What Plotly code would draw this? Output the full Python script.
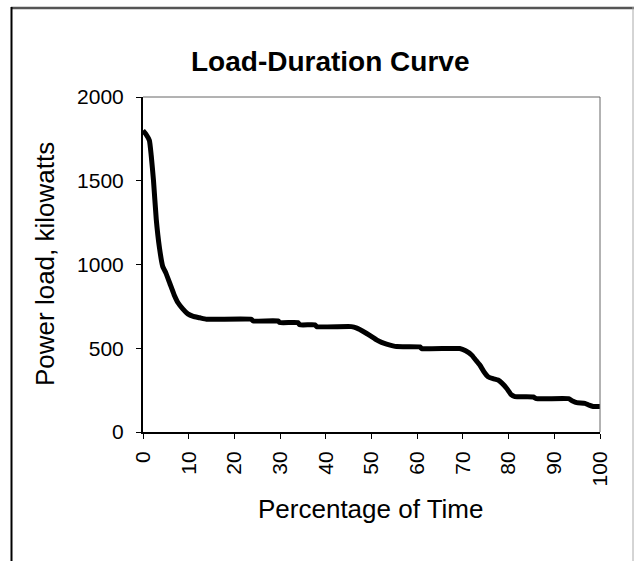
import plotly.graph_objects as go

# ---- data ----
pct = [0, 0.6, 1.4, 1.8, 2.3, 2.9, 3.6, 4.3, 5.0, 5.9, 6.8, 7.7, 8.7, 9.8, 11.0,
       12.4, 13.9, 23.7, 24.1, 29.6, 29.9, 33.9, 34.3, 37.6, 38.0, 45.6, 46.8,
       48.2, 49.7, 51.1, 52.2, 53.3, 55.5, 60.6, 61.0, 69.3, 70.6, 71.9, 72.8,
       73.7, 74.6, 75.5, 76.6, 77.7, 78.6, 79.6, 80.5, 81.4, 85.4, 86.1, 93.1,
       94.0, 94.9, 96.7, 97.6, 98.5, 100]
load_kw = [1800, 1780, 1740, 1650, 1500, 1270, 1100, 990, 950, 885, 820, 770, 735,
           705, 690, 682, 673, 673, 663, 663, 653, 653, 640, 640, 629, 629, 620,
           600, 575, 550, 535, 525, 510, 508, 498, 498, 485, 460, 430, 400, 360,
           330, 318, 310, 290, 260, 225, 211, 209, 199, 199, 185, 175, 171, 160,
           152, 152]

x_ticks = list(range(0, 101, 10))
y_ticks = [0, 500, 1000, 1500, 2000]

title_text = "Load-Duration Curve"
x_title = "Percentage of Time"
y_title = "Power load, kilowatts"

FONT = "Liberation Sans, Arial, Helvetica, sans-serif"

W, H = 634, 561
ML, MR, MT, MB = 143, 34, 97, 129
PW, PH = W - ML - MR, H - MT - MB


def px_to_paper_x(px):
    return (px - ML) / PW


def px_to_paper_y(py):
    return (H - MB - py) / PH


fig = go.Figure()
fig.add_trace(go.Scatter(
    x=pct, y=load_kw, mode="lines",
    line=dict(color="black", width=5, shape="spline", smoothing=0.4),
    showlegend=False, hoverinfo="x+y",
))

fig.update_layout(
    width=W, height=H,
    margin=dict(l=ML, r=MR, t=MT, b=MB),
    paper_bgcolor="white", plot_bgcolor="white",
    font=dict(family=FONT, color="black", size=21),
    showlegend=False,
)

fig.update_xaxes(
    range=[0, 100], tickvals=x_ticks, ticktext=[str(v) for v in x_ticks],
    tickangle=-90, showgrid=False, zeroline=False,
    showline=True, linecolor="black", linewidth=2,
    ticks="outside", ticklen=5, tickcolor="black", tickwidth=1,
    ticklabelstandoff=4,
    tickfont=dict(size=21, family=FONT),
)
fig.update_yaxes(
    range=[0, 2000], tickvals=y_ticks, ticktext=[str(v) for v in y_ticks],
    showgrid=False, zeroline=False,
    showline=True, linecolor="black", linewidth=2,
    ticks="outside", ticklen=5, tickcolor="black", tickwidth=1,
    ticklabelstandoff=8,
    tickfont=dict(size=21, family=FONT),
)

shapes = [
    # plot frame top & right (grey)
    dict(type="line", xref="paper", yref="paper", x0=0, x1=1, y0=1, y1=1,
         line=dict(color="#666666", width=1)),
    dict(type="line", xref="paper", yref="paper", x0=1, x1=1, y0=0, y1=1,
         line=dict(color="#666666", width=1)),
    # outer border
    dict(type="line", xref="paper", yref="paper",
         x0=px_to_paper_x(11), x1=px_to_paper_x(634),
         y0=px_to_paper_y(8), y1=px_to_paper_y(8),
         line=dict(color="#555555", width=2.5)),
    dict(type="line", xref="paper", yref="paper",
         x0=px_to_paper_x(11.5), x1=px_to_paper_x(11.5),
         y0=px_to_paper_y(7), y1=px_to_paper_y(561),
         line=dict(color="black", width=2)),
    dict(type="line", xref="paper", yref="paper",
         x0=px_to_paper_x(633), x1=px_to_paper_x(633),
         y0=px_to_paper_y(7), y1=px_to_paper_y(561),
         line=dict(color="#aaaaaa", width=1)),
]
fig.update_layout(shapes=shapes)

annotations = [
    dict(text="<b>" + title_text + "</b>", xref="paper", yref="paper",
         x=px_to_paper_x(330), y=px_to_paper_y(61), xanchor="center", yanchor="middle",
         showarrow=False, font=dict(size=28, family=FONT)),
    dict(text=x_title, xref="paper", yref="paper",
         x=px_to_paper_x(370), y=px_to_paper_y(509), xanchor="center", yanchor="middle",
         showarrow=False, font=dict(size=26, family=FONT)),
    dict(text=y_title, xref="paper", yref="paper",
         x=px_to_paper_x(45), y=px_to_paper_y(264), xanchor="center", yanchor="middle",
         textangle=-90, showarrow=False, font=dict(size=26, family=FONT)),
]
fig.update_layout(annotations=annotations)

fig.write_html("out.html", config={"displayModeBar": False},
               post_script="document.body.style.margin='0px';")
